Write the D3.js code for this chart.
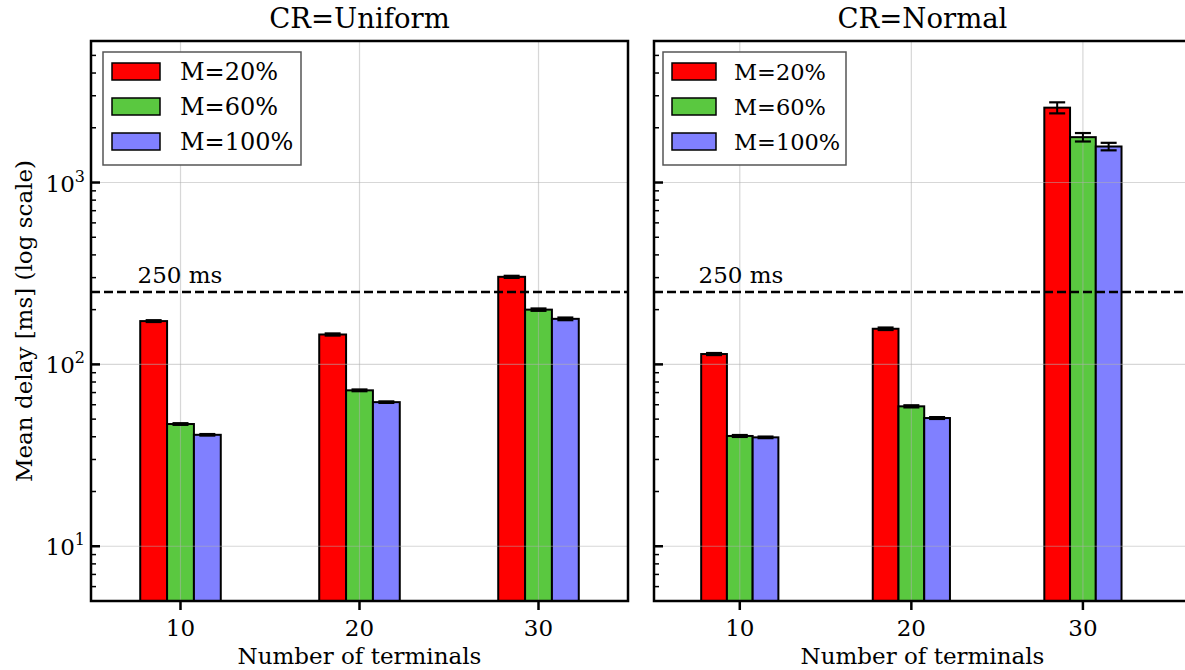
<!DOCTYPE html>
<html>
<head>
<meta charset="utf-8">
<script src="https://cdn.jsdelivr.net/npm/d3@7"></script>
<style>
  body { margin: 0; background: #fff; }
  svg text { font-family: "DejaVu Serif", serif; fill: #000; }
</style>
</head>
<body>
<div id="chart"></div>
<script>
// data
const terminals = [10, 20, 30];
const seriesNames = ["M=20%", "M=60%", "M=100%"];
const seriesColors = ["#ff0000", "#5ac840", "#8080ff"];

const uniformM20 = [173, 146, 303];
const uniformM60 = [47, 72, 200];
const uniformM100 = [41, 62, 178];
const uniformErr20 = [2, 2, 4];
const uniformErr60 = [0.5, 0.8, 3];
const uniformErr100 = [0.4, 0.6, 3];

const normalM20 = [114, 157, 2580];
const normalM60 = [40.4, 58.8, 1776];
const normalM100 = [39.7, 50.7, 1578];
const normalErr20 = [1.5, 2.5, 180];
const normalErr60 = [0.5, 0.8, 95];
const normalErr100 = [0.4, 0.6, 75];

const refLine = 250;
const yTickVals = [10, 100, 1000];

const WIDTH = 1185, HEIGHT = 670;

const svg = d3.select("#chart").append("svg")
  .attr("width", WIDTH)
  .attr("height", HEIGHT);

const panels = [
  { title: "CR=Uniform", x0: 91, x1: 628, xmax: 35, labels: true,
    means: [uniformM20, uniformM60, uniformM100], errs: [uniformErr20, uniformErr60, uniformErr100],
    legend: { x: 103, y: 52, w: 198, patchW: 48, textX: 77, font: 24 } },
  { title: "CR=Normal", x0: 654, x1: 1191, xmax: 36.3, labels: false,
    means: [normalM20, normalM60, normalM100], errs: [normalErr20, normalErr60, normalErr100],
    legend: { x: 663, y: 52, w: 183, patchW: 44, textX: 71, font: 22.5 } }
];

const plotTop = 41, plotBottom = 601;

const y = d3.scaleLog().domain([5, 6000]).range([plotBottom, plotTop]);

// minor ticks 2..9 x 10^k inside the domain
const minorTicks = [];
[1, 10, 100, 1000].forEach(function(base) {
  for (let k = 2; k <= 9; k++) {
    const v = k * base;
    if (v >= 5 && v <= 6000) minorTicks.push(v);
  }
});

const barW = 1.5;

function drawPanel(p) {
  const x = d3.scaleLinear().domain([5, p.xmax]).range([p.x0, p.x1]);
  const g = svg.append("g");

  // bars
  p.means.forEach(function(vals, si) {
    g.selectAll(".bar" + si)
      .data(terminals.map(function(t, i) { return { t: t, v: vals[i], e: p.errs[si][i] }; }))
      .enter().append("rect")
      .attr("x", function(d) { return x(d.t + (si - 1) * barW - barW / 2); })
      .attr("width", function(d) { return x(d.t + barW / 2) - x(d.t - barW / 2); })
      .attr("y", function(d) { return y(d.v); })
      .attr("height", function(d) { return plotBottom - y(d.v); })
      .attr("fill", seriesColors[si])
      .attr("stroke", "#000")
      .attr("stroke-width", 2);
  });

  // grid on top, semi transparent
  g.selectAll(".vgrid").data(terminals).enter().append("line")
    .attr("x1", function(d) { return x(d); }).attr("x2", function(d) { return x(d); })
    .attr("y1", plotTop).attr("y2", plotBottom)
    .attr("stroke", "#b0b0b0").attr("stroke-opacity", 0.5).attr("stroke-width", 1.2);
  g.selectAll(".hgrid").data(yTickVals).enter().append("line")
    .attr("x1", p.x0).attr("x2", p.x1)
    .attr("y1", function(d) { return y(d); }).attr("y2", function(d) { return y(d); })
    .attr("stroke", "#b0b0b0").attr("stroke-opacity", 0.5).attr("stroke-width", 1.2);

  // error bars
  p.means.forEach(function(vals, si) {
    terminals.forEach(function(t, i) {
      const cx = x(t + (si - 1) * barW);
      const lo = y(vals[i] - p.errs[si][i]), hi = y(vals[i] + p.errs[si][i]);
      g.append("line").attr("x1", cx).attr("x2", cx).attr("y1", lo).attr("y2", hi)
        .attr("stroke", "#000").attr("stroke-width", 2);
      [lo, hi].forEach(function(yy) {
        g.append("line").attr("x1", cx - 8).attr("x2", cx + 8).attr("y1", yy).attr("y2", yy)
          .attr("stroke", "#000").attr("stroke-width", 2.2);
      });
    });
  });

  // 250 ms reference
  g.append("line")
    .attr("x1", p.x0).attr("x2", p.x1)
    .attr("y1", y(refLine)).attr("y2", y(refLine))
    .attr("stroke", "#000").attr("stroke-width", 2.5)
    .attr("stroke-dasharray", "9,4");
  g.append("text")
    .attr("x", x(7.6)).attr("y", y(refLine) - 9)
    .style("font-size", "23px")
    .text(refLine + " ms");

  // y ticks (inward)
  g.selectAll(".ymaj").data(yTickVals).enter().append("line")
    .attr("x1", p.x0).attr("x2", p.x0 + 9)
    .attr("y1", function(d) { return y(d); }).attr("y2", function(d) { return y(d); })
    .attr("stroke", "#000").attr("stroke-width", 2.5);
  g.selectAll(".ymin").data(minorTicks).enter().append("line")
    .attr("x1", p.x0).attr("x2", p.x0 + 5)
    .attr("y1", function(d) { return y(d); }).attr("y2", function(d) { return y(d); })
    .attr("stroke", "#000").attr("stroke-width", 1.5);

  if (p.labels) {
    yTickVals.forEach(function(v) {
      const t = g.append("text")
        .attr("x", p.x0 - 6).attr("y", y(v) + 9)
        .attr("text-anchor", "end")
        .style("font-size", "23px");
      t.append("tspan").text("10");
      t.append("tspan").attr("dy", -10).style("font-size", "16px").text(Math.round(Math.log10(v)));
    });
    g.append("text")
      .attr("transform", "translate(32," + (plotTop + plotBottom) / 2 + ") rotate(-90)")
      .attr("text-anchor", "middle")
      .style("font-size", "23px")
      .text("Mean delay [ms] (log scale)");
  }

  // x ticks (outward)
  g.selectAll(".xtick").data(terminals).enter().append("line")
    .attr("x1", function(d) { return x(d); }).attr("x2", function(d) { return x(d); })
    .attr("y1", plotBottom).attr("y2", plotBottom + 9)
    .attr("stroke", "#000").attr("stroke-width", 2.5);
  g.selectAll(".xlab").data(terminals).enter().append("text")
    .attr("x", function(d) { return x(d); }).attr("y", 636)
    .attr("text-anchor", "middle")
    .style("font-size", "23px")
    .text(function(d) { return d; });
  g.append("text")
    .attr("x", (p.x0 + p.x1) / 2).attr("y", 664)
    .attr("text-anchor", "middle")
    .style("font-size", "23px")
    .text("Number of terminals");

  // frame
  g.append("rect")
    .attr("x", p.x0).attr("y", plotTop)
    .attr("width", p.x1 - p.x0).attr("height", plotBottom - plotTop)
    .attr("fill", "none").attr("stroke", "#000").attr("stroke-width", 2.5);

  // title
  g.append("text")
    .attr("x", (p.x0 + p.x1) / 2).attr("y", 28)
    .attr("text-anchor", "middle")
    .style("font-size", "27.5px")
    .text(p.title);

  // legend
  const L = p.legend;
  const leg = g.append("g").attr("transform", "translate(" + L.x + "," + L.y + ")");
  leg.append("rect")
    .attr("width", L.w).attr("height", 113)
    .attr("fill", "#fff").attr("stroke", "#555").attr("stroke-width", 1.5);
  seriesNames.forEach(function(name, si) {
    leg.append("rect")
      .attr("x", 9).attr("y", 11 + si * 35)
      .attr("width", L.patchW).attr("height", 17)
      .attr("fill", seriesColors[si]).attr("stroke", "#000").attr("stroke-width", 1.5);
    leg.append("text")
      .attr("x", L.textX).attr("y", 28 + si * 35)
      .style("font-size", L.font + "px")
      .text(name);
  });
}

panels.forEach(drawPanel);
</script>
</body>
</html>
